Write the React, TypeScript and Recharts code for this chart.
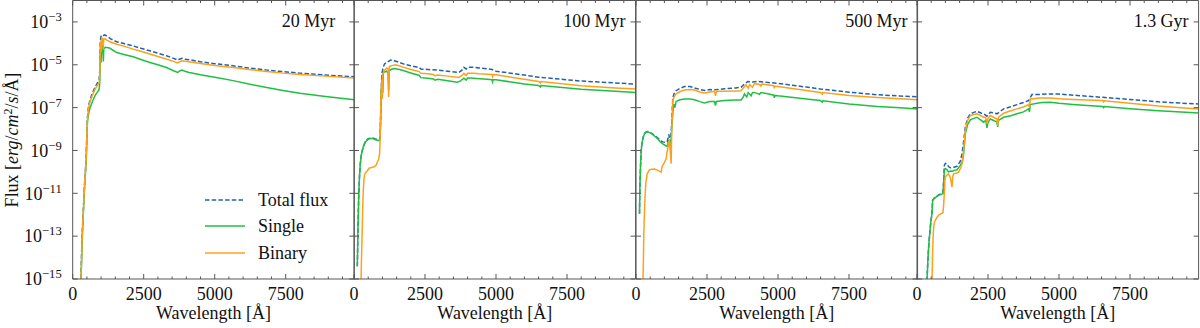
import React from "react";
import { Legend, Line, LineChart, XAxis, YAxis } from "recharts";

// Spectra of a stellar population at four ages. Flux values are stored as
// log10(F) [erg/cm^2/s/Å] and plotted on a linear axis labelled in decades.

type Pt = [number, number]; // [wavelength Å, log10 flux]

const X_MAX = 9915;
const X_TICKS = [0, 500, 1000, 1500, 2000, 2500, 3000, 3500, 4000, 4500, 5000, 5500, 6000, 6500, 7000, 7500, 8000, 8500, 9000, 9500];
const Y_TICKS = [-15, -13, -11, -9, -7, -5, -3];
const Y_DOMAIN: [number, number] = [-15, -2];
const AGES = ["20 Myr", "100 Myr", "500 Myr", "1.3 Gyr"];
const SERIES_NAMES = ["Total flux", "Single", "Binary"];

// ---- 20 Myr ----
const TOTAL_20: Pt[] = [[280, -15.3], [330, -13.0], [408, -10.8], [468, -9.5], [515, -7.5], [560, -6.9], [610, -6.65], [700, -6.3], [785, -6.06], [870, -5.85], [930, -5.72], [955, -5.2], [970, -3.9], [1000, -3.66], [1030, -3.6], [1080, -3.63], [1130, -3.6], [1200, -3.66], [1350, -3.8], [1550, -3.93], [1800, -4.01], [2130, -4.12], [2400, -4.23], [2720, -4.35], [3000, -4.46], [3300, -4.58], [3550, -4.7], [3700, -4.78], [3780, -4.73], [3850, -4.7], [3950, -4.74], [4100, -4.76], [4500, -4.86], [5000, -4.95], [5650, -5.05], [6200, -5.15], [6830, -5.25], [7400, -5.32], [8000, -5.39], [8900, -5.48], [9915, -5.56]];
const SINGLE_20: Pt[] = [[290, -15.3], [340, -13.0], [415, -10.8], [475, -9.5], [520, -7.65], [560, -7.3], [610, -7.0], [700, -6.7], [785, -6.44], [870, -6.28], [930, -6.15], [955, -5.8], [970, -4.6], [985, -4.3], [1000, -4.9], [1015, -4.15], [1040, -4.12], [1060, -4.3], [1080, -4.85], [1095, -4.25], [1150, -4.18], [1300, -4.22], [1550, -4.43], [1800, -4.52], [2130, -4.63], [2400, -4.75], [2720, -4.89], [3000, -5.0], [3300, -5.13], [3550, -5.28], [3700, -5.36], [3780, -5.28], [3850, -5.25], [3950, -5.3], [4100, -5.36], [4500, -5.47], [5000, -5.58], [5650, -5.74], [6200, -5.9], [6830, -6.06], [7400, -6.2], [8000, -6.33], [8900, -6.48], [9915, -6.63]];
const BINARY_20: Pt[] = [[285, -15.3], [335, -13.0], [410, -10.8], [470, -9.5], [518, -7.6], [560, -7.0], [610, -6.72], [700, -6.4], [785, -6.15], [870, -5.95], [930, -5.85], [955, -5.4], [968, -4.2], [985, -3.9], [1000, -4.4], [1012, -3.8], [1030, -3.76], [1060, -3.9], [1075, -4.3], [1090, -3.8], [1130, -3.78], [1200, -3.85], [1350, -3.95], [1550, -4.04], [1800, -4.13], [2130, -4.27], [2400, -4.37], [2720, -4.5], [3000, -4.61], [3300, -4.73], [3550, -4.84], [3700, -4.91], [3780, -4.85], [3850, -4.81], [3950, -4.84], [4100, -4.86], [4500, -4.94], [5000, -5.03], [5650, -5.13], [6200, -5.22], [6830, -5.31], [7400, -5.39], [8000, -5.45], [8900, -5.53], [9915, -5.62]];

// ---- 100 Myr ----
const TOTAL_100: Pt[] = [[117, -14.4], [140, -12.6], [165, -11.2], [190, -10.3], [220, -9.65], [260, -9.2], [320, -8.84], [400, -8.58], [500, -8.45], [640, -8.41], [760, -8.47], [880, -8.5], [915, -8.45], [935, -7.6], [960, -6.1], [985, -5.4], [1000, -5.3], [1030, -5.1], [1080, -4.95], [1114, -4.92], [1200, -4.85], [1290, -4.78], [1400, -4.8], [1760, -4.97], [2000, -5.05], [2300, -5.13], [2346, -5.2], [2600, -5.22], [2933, -5.25], [3300, -5.3], [3695, -5.36], [3800, -5.25], [3871, -5.12], [3950, -5.2], [4000, -5.12], [4223, -5.12], [4400, -5.15], [4860, -5.22], [5000, -5.3], [6000, -5.48], [6500, -5.58], [8000, -5.76], [9915, -5.9]];
const SINGLE_100: Pt[] = [[117, -14.4], [140, -12.6], [165, -11.2], [190, -10.3], [220, -9.65], [260, -9.2], [320, -8.85], [400, -8.6], [500, -8.47], [640, -8.43], [760, -8.5], [880, -8.54], [915, -8.52], [935, -7.8], [960, -6.3], [985, -5.6], [1000, -5.45], [1015, -6.3], [1030, -5.4], [1080, -5.33], [1150, -5.3], [1200, -5.4], [1220, -6.2], [1240, -5.3], [1300, -5.22], [1408, -5.18], [1600, -5.22], [1760, -5.28], [2000, -5.38], [2300, -5.5], [2350, -5.6], [2600, -5.63], [2800, -5.66], [2850, -5.72], [2950, -5.68], [3300, -5.75], [3636, -5.82], [3750, -5.75], [3870, -5.63], [3950, -5.72], [4000, -5.62], [4106, -5.62], [4300, -5.64], [4692, -5.68], [4860, -5.7], [4880, -5.8], [4900, -5.7], [5000, -5.7], [6000, -5.9], [6500, -5.97], [6560, -6.04], [6580, -5.97], [8000, -6.14], [9200, -6.24], [9915, -6.29]];
const BINARY_100: Pt[] = [[245, -15.3], [265, -14.0], [280, -13.2], [293, -12.5], [310, -11.5], [328, -10.85], [350, -10.35], [375, -10.1], [446, -10.0], [528, -9.83], [620, -9.8], [704, -9.76], [780, -9.68], [821, -9.55], [870, -9.4], [903, -9.15], [925, -8.2], [940, -7.0], [960, -6.2], [985, -5.7], [997, -6.6], [1010, -5.5], [1050, -5.3], [1080, -5.25], [1150, -5.15], [1200, -5.2], [1220, -6.5], [1240, -5.1], [1290, -5.05], [1467, -5.0], [1760, -5.12], [2000, -5.22], [2300, -5.32], [2346, -5.4], [2600, -5.42], [2800, -5.45], [2850, -5.52], [2933, -5.48], [3300, -5.53], [3695, -5.59], [3800, -5.5], [3871, -5.4], [3950, -5.5], [4000, -5.4], [4223, -5.4], [4400, -5.42], [4860, -5.45], [4880, -5.55], [4900, -5.46], [5000, -5.47], [6000, -5.68], [6500, -5.78], [6560, -5.85], [6580, -5.78], [8000, -5.98], [9200, -6.08], [9915, -6.13]];

// ---- 500 Myr ----
const TOTAL_500: Pt[] = [[123, -11.95], [135, -10.8], [158, -9.77], [180, -9.1], [205, -8.69], [250, -8.39], [299, -8.21], [360, -8.14], [416, -8.12], [500, -8.16], [592, -8.24], [680, -8.33], [768, -8.42], [860, -8.54], [944, -8.6], [1050, -8.62], [1097, -8.6], [1155, -8.25], [1190, -8.5], [1214, -8.6], [1240, -8.1], [1261, -7.6], [1296, -6.55], [1340, -6.35], [1413, -6.21], [1550, -6.1], [1707, -6.02], [1900, -6.02], [2059, -6.08], [2250, -6.15], [2410, -6.2], [2600, -6.16], [2762, -6.17], [3114, -6.12], [3500, -6.08], [3700, -6.05], [3800, -5.92], [3935, -5.78], [4100, -5.8], [4287, -5.77], [4600, -5.82], [5000, -5.87], [6000, -6.04], [6494, -6.13], [7500, -6.28], [8500, -6.4], [9300, -6.46], [9915, -6.49]];
const SINGLE_500: Pt[] = [[123, -11.95], [135, -10.8], [158, -9.77], [180, -9.1], [205, -8.69], [250, -8.4], [299, -8.22], [360, -8.15], [416, -8.13], [500, -8.18], [592, -8.26], [680, -8.36], [768, -8.46], [860, -8.6], [944, -8.69], [1050, -8.78], [1097, -8.81], [1155, -8.5], [1190, -8.8], [1214, -8.85], [1240, -8.4], [1261, -7.92], [1300, -7.2], [1331, -6.83], [1370, -7.0], [1413, -6.71], [1550, -6.63], [1707, -6.6], [1900, -6.6], [2059, -6.63], [2250, -6.72], [2410, -6.78], [2600, -6.72], [2762, -6.71], [2800, -6.9], [2830, -6.71], [3114, -6.67], [3500, -6.65], [3700, -6.64], [3780, -6.5], [3818, -6.36], [3900, -6.5], [3950, -6.3], [4050, -6.45], [4100, -6.3], [4170, -6.29], [4350, -6.38], [4400, -6.3], [4639, -6.35], [4850, -6.42], [4870, -6.54], [4890, -6.43], [5000, -6.45], [6000, -6.6], [6494, -6.67], [6560, -6.75], [6580, -6.68], [7500, -6.83], [8500, -6.95], [9300, -7.01], [9915, -7.06]];
const BINARY_500: Pt[] = [[240, -15.3], [260, -14.2], [275, -12.88], [300, -11.8], [322, -11.01], [350, -10.5], [393, -10.09], [475, -9.9], [560, -9.88], [651, -9.87], [750, -9.92], [886, -10.01], [920, -9.75], [979, -9.62], [1061, -9.39], [1090, -9.1], [1120, -8.92], [1150, -8.6], [1179, -8.54], [1200, -8.9], [1237, -9.62], [1260, -8.0], [1296, -6.67], [1340, -6.5], [1413, -6.36], [1550, -6.25], [1707, -6.18], [1900, -6.16], [2059, -6.18], [2250, -6.27], [2410, -6.32], [2600, -6.27], [2762, -6.24], [2800, -6.45], [2830, -6.24], [3114, -6.24], [3500, -6.22], [3700, -6.21], [3800, -6.05], [3877, -5.93], [3950, -6.1], [4000, -5.92], [4100, -6.05], [4170, -5.87], [4350, -5.92], [4400, -6.0], [4420, -5.9], [4850, -5.98], [4870, -6.1], [4890, -5.99], [5000, -6.01], [6000, -6.2], [6494, -6.29], [6560, -6.37], [6580, -6.3], [7500, -6.43], [8500, -6.53], [9300, -6.59], [9915, -6.63]];

// ---- 1.3 Gyr ----
const TOTAL_1300: Pt[] = [[352, -15.1], [380, -14.2], [411, -13.5], [440, -13.0], [469, -12.57], [500, -12.2], [528, -11.95], [551, -11.32], [600, -11.23], [645, -11.18], [763, -11.07], [850, -11.02], [915, -10.98], [940, -10.4], [962, -9.7], [1000, -9.6], [1056, -9.62], [1110, -9.75], [1173, -9.81], [1300, -9.78], [1408, -9.74], [1525, -9.5], [1584, -9.16], [1640, -8.6], [1701, -7.91], [1780, -7.5], [1877, -7.29], [2000, -7.22], [2111, -7.17], [2250, -7.25], [2346, -7.29], [2463, -7.4], [2581, -7.22], [2700, -7.25], [2815, -7.29], [3050, -7.06], [3300, -6.96], [3519, -6.86], [3750, -6.76], [3930, -6.67], [4047, -6.39], [4400, -6.38], [4692, -6.36], [5000, -6.37], [5500, -6.42], [6000, -6.47], [6548, -6.52], [7500, -6.62], [8500, -6.73], [9300, -6.79], [9915, -6.83]];
const SINGLE_1300: Pt[] = [[352, -15.1], [380, -14.2], [411, -13.5], [440, -13.0], [469, -12.57], [500, -12.2], [528, -11.95], [551, -11.33], [600, -11.25], [645, -11.2], [763, -11.09], [850, -11.05], [915, -11.02], [940, -10.5], [962, -9.93], [1000, -9.85], [1056, -9.9], [1110, -10.0], [1173, -9.96], [1250, -9.97], [1300, -9.93], [1408, -9.9], [1525, -9.7], [1600, -9.5], [1642, -9.16], [1680, -8.6], [1701, -8.22], [1780, -7.8], [1877, -7.57], [2000, -7.5], [2111, -7.45], [2250, -7.58], [2346, -7.68], [2420, -7.6], [2463, -7.95], [2500, -7.7], [2581, -7.53], [2700, -7.6], [2815, -7.68], [2840, -7.9], [2870, -7.6], [3050, -7.45], [3300, -7.38], [3519, -7.29], [3750, -7.2], [3930, -7.06], [3960, -7.2], [3988, -6.86], [4223, -6.8], [4400, -6.76], [4692, -6.75], [5000, -6.8], [5500, -6.85], [6000, -6.9], [6548, -6.95], [6570, -7.0], [6600, -6.95], [7500, -7.05], [8500, -7.15], [9300, -7.21], [9915, -7.25]];
const BINARY_1300: Pt[] = [[525, -15.3], [545, -14.0], [563, -13.19], [587, -12.57], [615, -12.35], [645, -12.26], [700, -12.12], [763, -12.02], [850, -11.95], [915, -11.91], [940, -11.5], [962, -11.02], [980, -10.5], [997, -10.24], [1050, -10.15], [1114, -10.09], [1180, -10.3], [1232, -10.71], [1260, -10.2], [1290, -10.09], [1400, -10.05], [1467, -10.01], [1540, -9.8], [1584, -9.62], [1640, -9.0], [1701, -8.07], [1780, -7.6], [1877, -7.37], [2000, -7.32], [2111, -7.29], [2250, -7.38], [2346, -7.45], [2420, -7.45], [2463, -7.76], [2500, -7.5], [2581, -7.37], [2700, -7.45], [2815, -7.53], [2840, -7.85], [2870, -7.45], [3050, -7.26], [3300, -7.15], [3519, -7.06], [3750, -6.97], [3930, -6.86], [3960, -7.0], [3988, -6.6], [4340, -6.55], [4692, -6.55], [5000, -6.59], [5500, -6.62], [6000, -6.65], [6548, -6.67], [6570, -6.73], [6600, -6.68], [7500, -6.8], [8500, -6.93], [9300, -7.01], [9915, -7.06]];

const TOTALS = [TOTAL_20, TOTAL_100, TOTAL_500, TOTAL_1300];
const SINGLES = [SINGLE_20, SINGLE_100, SINGLE_500, SINGLE_1300];
const BINARIES = [BINARY_20, BINARY_100, BINARY_500, BINARY_1300];

// layout
const W = 1200;
const H = 328;
const PLOT_W = 281.6;
const PANEL_LEFT = [72.7, 354.3, 635.7, 917.3];
const AGE_PAD = [19, 10, 10, 10];
const X_AXIS_H = 49;
const THIN = 0.01; // axes that only carry frame ticks (0 would hide them)
const FONT = "Liberation Serif, Times New Roman, serif";
const FRAME = "#555";
const INK = "#111";
const BLUE = "#1f63b0";
const GREEN = "#1fc041";
const ORANGE = "#ffa01c";
const LINE_W = 1.5;
const DASH = "4.5 2.2";

const SERIES_STYLE = [
  { color: BLUE, dash: DASH },
  { color: GREEN, dash: undefined },
  { color: ORANGE, dash: undefined },
];

const toRows = (pts: Pt[]) => pts.map(([w, f]) => ({ w, f }));

function BottomTick(props: any) {
  const { x, y, payload } = props;
  const major = payload.value % 2500 === 0;
  return (
    <g>
      <line x1={x} x2={x} y1={y} y2={y - (major ? 5 : 2.5)} stroke={FRAME} strokeWidth={1} />
      {major && (
        <text x={x} y={y + 21} textAnchor="middle" fontSize={18} fontFamily={FONT} fill={INK}>
          {payload.value}
        </text>
      )}
    </g>
  );
}

function TopTick(props: any) {
  const { x, y, payload } = props;
  const major = payload.value % 2500 === 0;
  return <line x1={x} x2={x} y1={y} y2={y + (major ? 5 : 2.5)} stroke={FRAME} strokeWidth={1} />;
}

function LeftTick(props: any) {
  const { x, y, payload, showLabel } = props;
  return (
    <g>
      <line x1={x} x2={x + 5} y1={y} y2={y} stroke={FRAME} strokeWidth={1} />
      {showLabel && (
        <text x={x - 11} y={y + 6.3} textAnchor="end" fontSize={18} fontFamily={FONT} fill={INK}>
          10
          <tspan dy={-7} fontSize={12.6}>
            {"\u2212" + Math.abs(payload.value)}
          </tspan>
        </text>
      )}
    </g>
  );
}

function RightTick(props: any) {
  const { x, y } = props;
  return <line x1={x} x2={x - 5} y1={y} y2={y} stroke={FRAME} strokeWidth={1} />;
}

function LegendBox() {
  return (
    <div style={{ fontFamily: FONT, fontSize: 18, color: INK }}>
      {SERIES_NAMES.map((name, i) => (
        <div key={name} style={{ display: "flex", alignItems: "center", height: 26.3 }}>
          <svg width={40} height={6} style={{ display: "block", flexShrink: 0 }}>
            <line
              x1={0}
              x2={40}
              y1={3}
              y2={3}
              stroke={SERIES_STYLE[i].color}
              strokeWidth={1.7}
              strokeDasharray={SERIES_STYLE[i].dash}
            />
          </svg>
          <span style={{ marginLeft: 13, lineHeight: "18px", whiteSpace: "nowrap" }}>{name}</span>
        </div>
      ))}
    </div>
  );
}

function Panel({ idx }: { idx: number }) {
  const first = idx === 0;
  const ml = first ? PANEL_LEFT[0] : 12;
  const mr = 12;
  const series = [TOTALS[idx], SINGLES[idx], BINARIES[idx]];
  return (
    <div style={{ position: "absolute", left: PANEL_LEFT[idx] - ml, top: 0 }}>
      <LineChart
        width={ml + PLOT_W + mr}
        height={H}
        margin={{ top: 0.5 - THIN, right: mr - THIN, bottom: 0, left: first ? 0 : ml - THIN }}
      >
        <XAxis
          xAxisId="b"
          type="number"
          dataKey="w"
          domain={[0, X_MAX]}
          ticks={X_TICKS}
          interval={0}
          allowDataOverflow
          height={X_AXIS_H}
          tickSize={0}
          tickMargin={0}
          tickLine={false}
          axisLine={{ stroke: FRAME }}
          tick={(p: any) => <BottomTick {...p} />}
        />
        <XAxis
          xAxisId="t"
          orientation="top"
          type="number"
          dataKey="w"
          domain={[0, X_MAX]}
          ticks={X_TICKS}
          interval={0}
          allowDataOverflow
          height={THIN}
          tickSize={0}
          tickMargin={0}
          tickLine={false}
          axisLine={{ stroke: FRAME }}
          tick={(p: any) => <TopTick {...p} />}
        />
        <YAxis
          yAxisId="l"
          type="number"
          domain={Y_DOMAIN}
          ticks={Y_TICKS}
          interval={0}
          allowDataOverflow
          width={first ? ml : THIN}
          tickSize={0}
          tickMargin={0}
          tickLine={false}
          axisLine={{ stroke: FRAME }}
          tick={(p: any) => <LeftTick {...p} showLabel={first} />}
        />
        <YAxis
          yAxisId="r"
          orientation="right"
          type="number"
          domain={Y_DOMAIN}
          ticks={Y_TICKS}
          interval={0}
          allowDataOverflow
          width={THIN}
          tickSize={0}
          tickMargin={0}
          tickLine={false}
          axisLine={{ stroke: FRAME }}
          tick={(p: any) => <RightTick {...p} />}
        />
        {series.map((pts, i) => (
          <Line
            key={SERIES_NAMES[i]}
            name={SERIES_NAMES[i]}
            xAxisId="b"
            yAxisId="l"
            data={toRows(pts)}
            dataKey="f"
            type="linear"
            stroke={SERIES_STYLE[i].color}
            strokeWidth={LINE_W}
            strokeDasharray={SERIES_STYLE[i].dash}
            dot={false}
            activeDot={false}
            isAnimationActive={false}
          />
        ))}
        {first && (
          <Legend
            layout="vertical"
            align="center"
            verticalAlign="middle"
            content={() => <LegendBox />}
            wrapperStyle={{ left: 205, top: 187, width: 160 }}
          />
        )}
        <text
          x={ml + PLOT_W - AGE_PAD[idx]}
          y={27}
          textAnchor="end"
          fontSize={18}
          fontFamily={FONT}
          fill={INK}
        >
          {AGES[idx]}
        </text>
        <text
          x={ml + PLOT_W / 2}
          y={319}
          textAnchor="middle"
          fontSize={18}
          fontFamily={FONT}
          fill={INK}
        >
          Wavelength [Å]
        </text>
        {first && (
          <text
            transform="translate(18,140) rotate(-90)"
            textAnchor="middle"
            fontSize={18}
            fontFamily={FONT}
            fill={INK}
          >
            Flux [<tspan fontStyle="italic">erg</tspan>/<tspan fontStyle="italic">cm</tspan>
            <tspan dy={-6} fontSize={12}>2</tspan>
            <tspan dy={6}>/</tspan>
            <tspan fontStyle="italic">s</tspan>/Å]
          </text>
        )}
      </LineChart>
    </div>
  );
}

export default function App() {
  return (
    <div
      style={{
        position: "absolute",
        left: 0,
        top: 0,
        width: W,
        height: H,
        overflow: "hidden",
        background: "#fff",
        fontFamily: FONT,
      }}
    >
      {AGES.map((_, i) => (
        <Panel key={AGES[i]} idx={i} />
      ))}
    </div>
  );
}
